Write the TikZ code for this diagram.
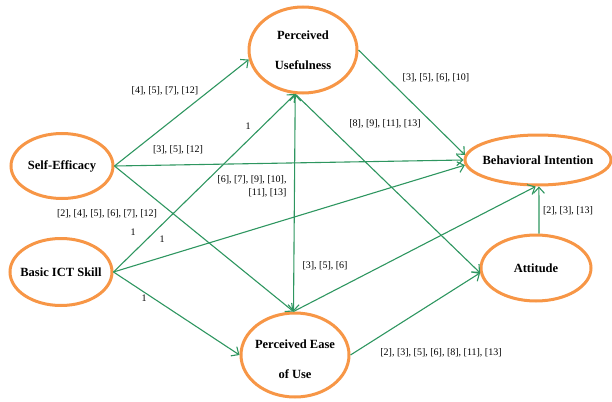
\documentclass[tikz,border=0pt]{standalone}
\usepackage{fontspec}
\setmainfont{Liberation Serif}
\usetikzlibrary{shapes.geometric,arrows.meta}
\definecolor{orng}{RGB}{247,150,70}
\definecolor{grn}{RGB}{46,150,96}
\begin{document}
\begin{tikzpicture}[x=1pt,y=-1pt,
  construct/.style={ellipse, draw=orng, line width=3pt, inner sep=0pt, fill=white},
  ctext/.style={font=\bfseries\fontsize{12.5}{30}\selectfont, align=center, inner sep=0pt},
  link/.style={draw=grn, line width=1.1pt, -{Straight Barb[length=6pt,width=11pt]}},
  dlink/.style={draw=grn, line width=1.1pt, {Straight Barb[length=6pt,width=11pt]}-{Straight Barb[length=6pt,width=11pt]}},
  lbl/.style={font=\fontsize{10}{13}\selectfont, inner sep=1pt}]
\useasboundingbox (0,0) rectangle (612,401);

% constructs
\node[construct, minimum width=108pt, minimum height=86pt,
  label={[ctext]center:Perceived\\Usefulness}] (PU) at (303,50) {};
\node[construct, minimum width=102pt, minimum height=65pt,
  label={[ctext]center:Self-Efficacy}] (SE) at (62,166) {};
\node[construct, minimum width=146pt, minimum height=50pt,
  label={[ctext]center:Behavioral Intention}] (BI) at (538,160) {};
\node[construct, minimum width=102pt, minimum height=67pt,
  label={[ctext]center:Basic ICT Skill}] (BICT) at (61,272) {};
\node[construct, minimum width=108pt, minimum height=84pt,
  label={[ctext,yshift=-4pt]center:Perceived Ease\\of Use}] (PEOU) at (295,355) {};
\node[construct, minimum width=110pt, minimum height=66pt,
  label={[ctext]center:Attitude}] (ATT) at (536,268) {};

% connectors
\draw[link] (SE.east) -- (PU.190);
\draw[link] (SE.east) -- (BI.west);
\draw[link] (SE.east) -- (PEOU.92);
\draw[link] (BICT.east) -- (PU.260);
\draw[link] (BICT.east) -- (BI.184);
\draw[link] (BICT.east) -- (PEOU.west);
\draw[dlink] (PEOU.92) -- (PU.260);
\draw[link] (PU.east) -- (BI.176);
\draw[link] (PU.260) -- (ATT.185);
\draw[link] (PEOU.92) -- (BI.-95);
\draw[link] (PEOU.east) -- (ATT.185);
\draw[link] (ATT.85) -- (BI.-88);

% labels
\node[lbl] (l1) at (165,91) {[4], [5], [7], [12]};
\node[lbl] (l2) at (178,150) {[3], [5], [12]};
\node[lbl] (l3) at (248,126) {1};
\node[lbl, align=right] (l4) at (252,186) {[6], [7], [9], [10],\\ {}[11], [13]};
\node[lbl] (l5) at (436,78) {[3], [5], [6], [10]};
\node[lbl] (l6) at (385,124) {[8], [9], [11], [13]};
\node[lbl] (l7) at (107,214) {[2], [4], [5], [6], [7], [12]};
\node[lbl] (l8) at (133,232) {1};
\node[lbl] (l9) at (162,239) {1};
\node[lbl] (l10) at (144,298) {1};
\node[lbl] (l11) at (325,266) {[3], [5], [6]};
\node[lbl] (l12) at (568,211) {[2], [3], [13]};
\node[lbl] (l13) at (441,353) {[2], [3], [5], [6], [8], [11], [13]};
\end{tikzpicture}
\end{document}
